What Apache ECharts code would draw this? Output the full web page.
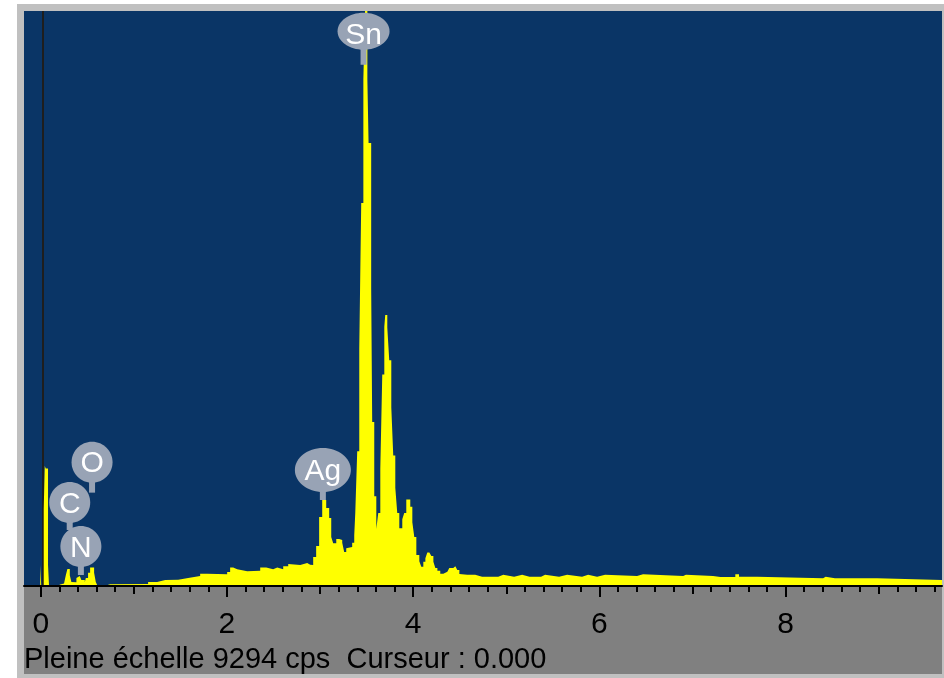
<!DOCTYPE html>
<html>
<head>
<meta charset="utf-8">
<script src="https://cdn.jsdelivr.net/npm/echarts@6/dist/echarts.min.js"></script>
<style>
  html, body { margin: 0; padding: 0; background: #fff; }
  #chart { width: 944px; height: 678px; }
</style>
</head>
<body>
<div id="chart"></div>
<script>
// spectre EDS : energie (keV, bord gauche du canal) et coups
const keV = [
  -0.18, -0.006, 0.005, 0.032, 0.043, 0.054, 0.078, 0.089, 0.17, 0.21,
  0.25, 0.269, 0.286, 0.312, 0.329, 0.347, 0.383, 0.401, 0.419, 0.436,
  0.473, 0.484, 0.508, 0.53, 0.573, 0.591, 0.608, 0.70, 0.745, 0.765,
  1.153, 1.25, 1.336, 1.476, 1.583, 1.712, 1.787, 2.002, 2.034, 2.067,
  2.11, 2.218, 2.357, 2.422, 2.496, 2.54, 2.604, 2.658, 2.679, 2.787,
  2.862, 2.894, 2.926, 2.958, 2.99, 3.023, 3.066, 3.098, 3.12, 3.141,
  3.174, 3.206, 3.238, 3.259, 3.281, 3.302, 3.345, 3.367, 3.378, 3.399,
  3.421, 3.442, 3.465, 3.483, 3.508, 3.521, 3.549, 3.56, 3.582, 3.604, 3.625,
  3.647, 3.668, 3.69, 3.70, 3.722, 3.743, 3.765, 3.786, 3.808, 3.829,
  3.851, 3.883, 3.904, 3.926, 3.969, 3.991, 4.012, 4.034, 4.066, 4.087,
  4.109, 4.131, 4.152, 4.174, 4.195, 4.217, 4.238, 4.26, 4.291, 4.324,
  4.367, 4.388, 4.431, 4.453, 4.474, 4.496, 4.506, 4.581, 4.60, 4.666,
  4.74, 4.76, 4.82, 4.84, 4.914, 4.968, 5.084, 5.17, 5.25, 5.27,
  5.374, 5.417, 5.567, 5.653, 5.814, 5.879, 5.975, 6.061, 6.405, 6.469,
  6.9, 6.93, 7.221, 7.3, 7.32, 7.46, 7.5, 7.694, 8.403, 8.43,
  8.53, 8.55, 8.6, 8.62, 8.68, 8.70, 8.77, 8.79, 8.86, 8.88,
  8.983, 9.68
];
const cps = [
  0, 340, 0, 1250, 1940, 1900, 340, 0, 25, 40,
  65, 175, 275, 175, 65, 60, 130, 160, 130, 95,
  60, 130, 215, 300, 215, 65, 10, 30, 10, 32,
  65, 95, 100, 130, 160, 200, 190, 225, 300, 270,
  240, 245, 300, 270, 300, 270, 320, 355, 340, 370,
  345, 340, 470, 645, 1115, 1390, 1260, 1100, 790, 690,
  760, 745, 700, 550, 610, 630, 700, 820, 1180, 2180,
  3830, 6190, 8190, 9294, 8190, 7160, 4815, 2650, 1450, 920, 1180,
  1890, 3420, 4190, 4380, 4180, 3650, 2890, 2110, 1590, 1180,
  935, 1080, 1180, 1400, 1280, 1030, 790, 500, 400, 310,
  390, 450, 540, 570, 485, 390, 290, 245, 200, 230,
  260, 290, 320, 290, 260, 195, 180, 150, 180, 150,
  175, 150, 175, 150, 180, 150, 180, 150, 180, 150,
  180, 150, 180, 150, 180, 150, 180, 160, 190, 160,
  180, 160, 145, 160, 145, 190, 150, 125, 150, 125,
  150, 125, 150, 125, 150, 125, 150, 125, 150, 125,
  95, 95
];
const fullScale = 9294;

// graduations
const tickLabels = [0, 2, 4, 6, 8];
const tickUnits = [1, 3, 5, 7, 9];
const tickMinor = [0.2, 0.4, 0.6, 0.8, 1.2, 1.4, 1.6, 1.8, 2.2, 2.4, 2.6, 2.8,
  3.2, 3.4, 3.6, 3.8, 4.2, 4.4, 4.6, 4.8, 5.2, 5.4, 5.6, 5.8, 6.2, 6.4, 6.6, 6.8,
  7.2, 7.4, 7.6, 7.8, 8.2, 8.4, 8.6, 8.8, 9.2, 9.4, 9.6];

// etiquettes des elements
const elemNames = ['Sn', 'Ag', 'O', 'C', 'N'];
const elemKeV = [3.467, 3.030, 0.551, 0.311, 0.431];
const elemCps = [8425, 1390, 1509, 905, 178];

const cursorKeV = 0.017;

const labelShape = {
  Sn: { rx: 26, ry: 18.5, stem: 15, dy: 4 },
  Ag: { rx: 28, ry: 22, stem: 8, dy: 2 },
  O: { rx: 20.5, ry: 20.5, stem: 10, dy: 2 },
  C: { rx: 20.5, ry: 20.5, stem: 7, dy: 2 },
  N: { rx: 20.5, ry: 20.5, stem: 8, dy: 2 }
};
const FONT = '"Liberation Sans", Arial, sans-serif';

const chart = echarts.init(document.getElementById('chart'));

const spectrum = keV.map((e, i) => [e, cps[i]]);
const labels = elemNames.map((n, i) => [elemKeV[i], elemCps[i], n]);

const xBase = { type: 'value', min: -0.18, max: 9.68, gridIndex: 0, position: 'bottom', z: 10, splitLine: { show: false } };

const option = {
  animation: false,
  graphic: [
    { type: 'rect', z: 0, shape: { x: 17, y: 4, width: 927, height: 674 }, style: { fill: '#c0c0c0' } },
    { type: 'rect', z: 0, shape: { x: 24, y: 11, width: 918, height: 576 }, style: { fill: '#0a3566' } },
    { type: 'rect', z: 0, shape: { x: 24, y: 586, width: 918, height: 88 }, style: { fill: '#808080' } },
    {
      type: 'text', z: 1, x: 24, y: 660,
      style: { text: 'Pleine échelle 9294 cps  Curseur : 0.000', fill: '#000', font: '29px ' + FONT, verticalAlign: 'middle' }
    }
  ],
  grid: { left: 24, top: 11, width: 918, height: 575, show: false },
  xAxis: [
    Object.assign({}, xBase, {
      axisLine: { show: true, lineStyle: { color: '#000', width: 2 } },
      axisTick: { show: true, customValues: tickLabels, length: 11, lineStyle: { color: '#000', width: 2 } },
      axisLabel: { show: true, customValues: tickLabels, color: '#000', fontSize: 30, fontFamily: FONT, margin: 24 }
    }),
    Object.assign({}, xBase, {
      axisLine: { show: false },
      axisTick: { show: true, customValues: tickUnits, length: 8, lineStyle: { color: '#000', width: 2 } },
      axisLabel: { show: false }
    }),
    Object.assign({}, xBase, {
      axisLine: { show: false },
      axisTick: { show: true, customValues: tickMinor, length: 6, lineStyle: { color: '#000', width: 2 } },
      axisLabel: { show: false }
    })
  ],
  yAxis: { type: 'value', min: 0, max: fullScale, show: false },
  series: [
    {
      type: 'line',
      xAxisIndex: 0,
      data: spectrum,
      step: 'end',
      symbol: 'none',
      z: 5,
      lineStyle: { width: 0 },
      areaStyle: { color: '#ffff00', opacity: 1 },
      markLine: {
        silent: true,
        symbol: 'none',
        label: { show: false },
        lineStyle: { color: '#1e1e1e', width: 2, type: 'solid' },
        data: [{ xAxis: cursorKeV }]
      }
    },
    {
      type: 'custom',
      xAxisIndex: 0,
      z: 8,
      clip: false,
      data: labels,
      encode: { x: 0, y: 1 },
      renderItem: (params, api) => {
        const p = api.coord([api.value(0), api.value(1)]);
        const name = elemNames[params.dataIndex];
        const s = labelShape[name];
        const cy = p[1] - s.stem - s.ry;
        const col = '#98a3b5';
        return {
          type: 'group',
          children: [
            { type: 'rect', shape: { x: p[0] - 3, y: p[1] - s.stem - 2, width: 6, height: s.stem + 2 }, style: { fill: col } },
            { type: 'ellipse', shape: { cx: p[0], cy: cy, rx: s.rx, ry: s.ry }, style: { fill: col } },
            { type: 'text', x: p[0], y: cy + s.dy, style: { text: name, fill: '#fff', font: '30px ' + FONT, align: 'center', verticalAlign: 'middle' } }
          ]
        };
      }
    }
  ]
};
chart.setOption(option);
</script>
</body>
</html>
